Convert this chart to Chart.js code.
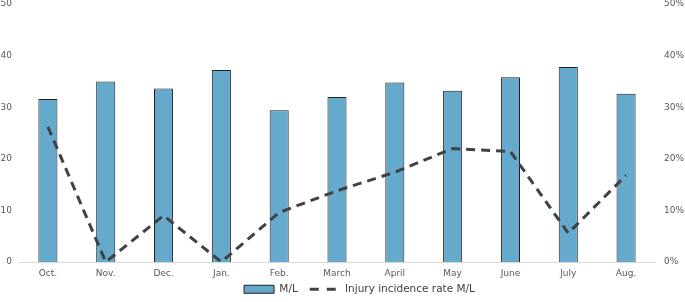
<!DOCTYPE html>
<html>
<head>
<meta charset="utf-8">
<script src="https://cdn.jsdelivr.net/npm/chart.js@4"></script>
<style>
  html, body { margin: 0; padding: 0; background: #fff; }
  #wrap { width: 685px; height: 302px; position: relative; }
</style>
</head>
<body>
<div id="wrap"><canvas id="chart"></canvas></div>
<script>
const months = ['Oct.', 'Nov.', 'Dec.', 'Jan.', 'Feb.', 'March', 'April', 'May', 'June', 'July', 'Aug.'];
const mlValues = [31.6, 35.0, 33.6, 37.2, 29.4, 32.0, 34.8, 33.2, 35.8, 37.8, 32.6];
const injuryRate = [26.2, 0, 9.0, 0, 9.6, 13.8, 17.4, 22.0, 21.4, 5.6, 16.8];

const tickColor = '#595959';
const tickFont = { family: 'DejaVu Sans', size: 9 };

// keep the value axes tight to the top/bottom of the plot
function fitValueAxis(width) {
    return function (axis) {
        axis.width = width;
        axis.paddingTop = 4;
        axis.paddingBottom = 0;
    };
}

// legend keeps wide item spacing but takes less height, and sits a bit higher / right
const legendHeight = {
    id: 'legendHeight',
    afterInit: function (chart) {
        const legend = chart.legend;
        if (!legend) return;
        const fit = legend.fit;
        legend.fit = function () {
            fit.call(this);
            this.height = 23;
        };
    },
    afterLayout: function (chart) {
        const legend = chart.legend;
        if (!legend) return;
        legend.top -= 7;
        legend.bottom -= 7;
        legend.left += 17;
        legend.right += 17;
    }
};

document.addEventListener("DOMContentLoaded", function () {
    const ctx = document.getElementById('chart').getContext('2d');

    new Chart(ctx, {
        data: {
            labels: months,
            datasets: [{
                type: 'bar',
                label: 'M/L',
                data: mlValues,
                backgroundColor: '#65a9cc',
                borderColor: '#1f1f1f',
                borderWidth: 1,
                categoryPercentage: 1,
                barPercentage: 0.33,
                yAxisID: 'y',
                order: 2
            }, {
                type: 'line',
                label: 'Injury incidence rate M/L',
                data: injuryRate,
                borderColor: '#404047',
                backgroundColor: '#404047',
                borderWidth: 3,
                borderDash: [9, 6],
                pointRadius: 0,
                tension: 0,
                yAxisID: 'y1',
                order: 1
            }]
        },
        plugins: [legendHeight],
        options: {
            responsive: true,
            maintainAspectRatio: false,
            animation: false,
            layout: { padding: 0 },
            plugins: {
                legend: {
                    position: 'bottom',
                    labels: {
                        color: '#404040',
                        font: { family: 'DejaVu Sans', size: 10.5 },
                        usePointStyle: true,
                        pointStyleWidth: 30,
                        boxHeight: 8,
                        padding: 12,
                        generateLabels: function (chart) {
                            return chart.data.datasets.map(function (ds, i) {
                                const isLine = ds.type === 'line';
                                return {
                                    text: ds.label,
                                    datasetIndex: i,
                                    fillStyle: ds.backgroundColor,
                                    strokeStyle: ds.borderColor,
                                    lineWidth: isLine ? 3 : 1,
                                    lineDash: isLine ? [9, 8] : [],
                                    pointStyle: isLine ? 'line' : 'rect',
                                    fontColor: '#404040'
                                };
                            });
                        }
                    }
                },
                tooltip: { enabled: false }
            },
            scales: {
                x: {
                    afterFit: function (axis) { axis.height = 17; },
                    grid: { display: false, drawTicks: false },
                    border: { display: true, color: '#d9d9d9', width: 1 },
                    ticks: { color: tickColor, font: tickFont, padding: 6, maxRotation: 0 }
                },
                y: {
                    position: 'left',
                    min: 0,
                    max: 50,
                    afterFit: fitValueAxis(19),
                    grid: { display: false, drawTicks: false },
                    border: { display: false },
                    ticks: { stepSize: 10, color: tickColor, font: tickFont, padding: 7 }
                },
                y1: {
                    position: 'right',
                    min: 0,
                    max: 50,
                    afterFit: fitValueAxis(30),
                    grid: { display: false, drawTicks: false },
                    border: { display: false },
                    ticks: {
                        stepSize: 10,
                        color: tickColor,
                        font: tickFont,
                        padding: 9,
                        callback: function (value) { return value + '%'; }
                    }
                }
            }
        }
    });
});
</script>
</body>
</html>
